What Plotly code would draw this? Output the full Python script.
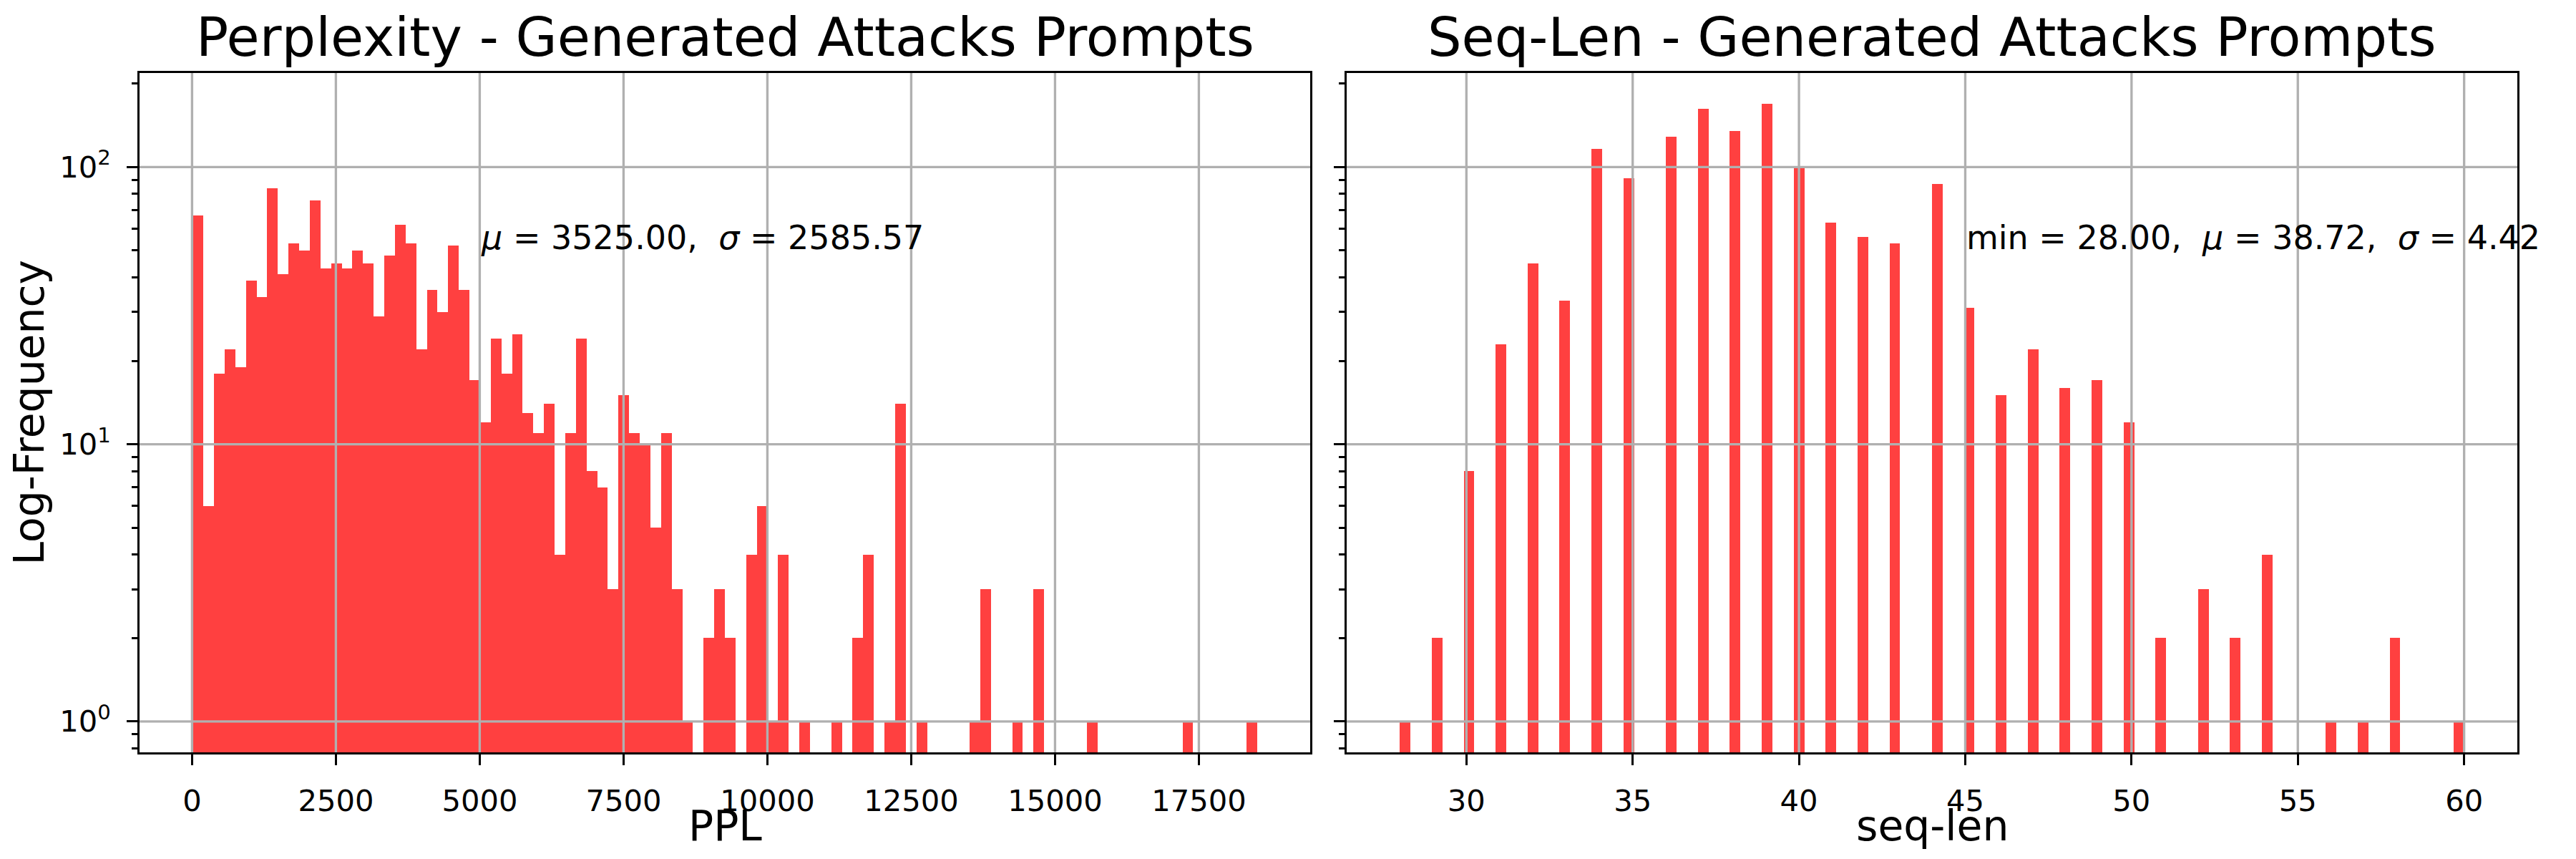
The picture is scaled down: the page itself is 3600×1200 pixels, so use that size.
import numpy as np
import plotly.graph_objects as go

# ---- data ----
# perplexity histogram: 100 equal bins between PPL_MIN and PPL_MAX
PPL_MIN = 12.0
PPL_MAX = 18510.0
ppl_counts = [
    67, 6, 18, 22, 19, 39, 34, 84, 41, 53,
    50, 76, 43, 45, 43, 50, 45, 29, 48, 62,
    53, 22, 36, 30, 52, 36, 17, 12, 24, 18,
    25, 13, 11, 14, 4, 11, 24, 8, 7, 3,
    15, 11, 10, 5, 11, 3, 1, 0, 2, 3,
    2, 0, 4, 6, 1, 4, 0, 1, 0, 0,
    1, 0, 2, 4, 0, 1, 14, 0, 1, 0,
    0, 0, 0, 1, 3, 0, 0, 1, 0, 3,
    0, 0, 0, 0, 1, 0, 0, 0, 0, 0,
    0, 0, 0, 1, 0, 0, 0, 0, 0, 1,
]
PPL_STATS = "<i>μ</i> = 3525.00,  <i>σ</i> = 2585.57"

# sequence length: value -> number of prompts
seq_values = [28, 29, 30, 31, 32, 33, 34, 35, 36, 37, 38, 39, 40, 41, 42, 43,
              44, 45, 46, 47, 48, 49, 50, 51, 52, 53, 54, 56, 57, 58, 60]
seq_counts = [1, 2, 8, 23, 45, 33, 116, 91, 129, 162, 135, 169, 100, 63, 56, 53,
              87, 31, 15, 22, 16, 17, 12, 2, 3, 2, 4, 1, 1, 2, 1]
SEQ_STATS = "min = 28.00,  <i>μ</i> = 38.72,  <i>σ</i> = 4.42"

ppl_ticks = [0, 2500, 5000, 7500, 10000, 12500, 15000, 17500]
seq_ticks = [30, 35, 40, 45, 50, 55, 60]
y_ticks = [1, 10, 100]
y_ticktext = ["10<sup>0</sup>", "10<sup>1</sup>", "10<sup>2</sup>"]
y_minor = [0.8, 0.9, 2, 3, 4, 5, 6, 7, 8, 9, 20, 30, 40, 50, 60, 70, 80, 90, 200]

# ---- style ----
BAR_COLOR = "#ff4040"
GRID = "#b0b0b0"
FONT = "DejaVu Sans"
PT = 300 / 72  # pixels per point (figure saved at 300 dpi)

# ---- histograms ----
ppl_edges = np.linspace(PPL_MIN, PPL_MAX, len(ppl_counts) + 1)
seq_data = np.repeat(seq_values, seq_counts)
seq_hist, seq_edges = np.histogram(seq_data, bins=100)


def bar_trace(counts, edges, xa, ya):
    counts = np.asarray(counts, dtype=float)
    widths = np.diff(edges)
    y = np.where(counts > 0, counts, np.nan)
    return go.Bar(
        x=edges[:-1] + widths / 2, y=y, width=widths,
        marker=dict(color=BAR_COLOR, line=dict(width=0)),
        xaxis=xa, yaxis=ya, showlegend=False,
    )


def padded(lo, hi, frac=0.05):
    span = hi - lo
    return [lo - frac * span, hi + frac * span]


y_max = max(max(ppl_counts), int(seq_hist.max()))
y_range = padded(0.0, np.log10(y_max))
x1_range = padded(ppl_edges[0], ppl_edges[-1])
x2_range = padded(seq_edges[0], seq_edges[-1])

fig = go.Figure()
fig.add_trace(bar_trace(ppl_counts, ppl_edges, "x", "y"))
fig.add_trace(bar_trace(seq_hist, seq_edges, "x2", "y2"))

dom1 = [187 / 3600, 1823 / 3600]
dom2 = [1874 / 3600, 3510 / 3600]
ydom = [1 - 1043 / 1200, 1 - 94 / 1200]

tick_font = dict(family=FONT, size=10 * PT, color="black")
axis_common = dict(
    showline=True, linecolor="black", linewidth=0.8 * PT, mirror=True,
    ticks="outside", ticklen=3.5 * PT, tickwidth=0.8 * PT, tickcolor="black",
    showgrid=False, zeroline=False, layer="above traces",
    tickfont=tick_font,
)
minor_y = dict(tickmode="array", tickvals=y_minor, ticks="outside",
               ticklen=2 * PT, tickwidth=0.6 * PT, tickcolor="black", showgrid=False)

fig.update_layout(
    width=3600, height=1200,
    margin=dict(l=0, r=0, t=0, b=0),
    paper_bgcolor="white", plot_bgcolor="white",
    bargap=0, barmode="overlay",
    font=dict(family=FONT, color="black"),
    xaxis=dict(domain=dom1, anchor="y", range=x1_range, tickmode="array",
               tickvals=ppl_ticks, ticktext=[str(v) for v in ppl_ticks],
               ticklabelstandoff=14, **axis_common),
    xaxis2=dict(domain=dom2, anchor="y2", range=x2_range, tickmode="array",
                tickvals=seq_ticks, ticktext=[str(v) for v in seq_ticks],
                ticklabelstandoff=14, **axis_common),
    yaxis=dict(domain=ydom, anchor="x", type="log", range=y_range, tickmode="array",
               tickvals=y_ticks, ticktext=y_ticktext, minor=minor_y,
               ticklabelstandoff=14, **axis_common),
    yaxis2=dict(domain=ydom, anchor="x2", type="log", range=y_range, tickmode="array",
                tickvals=y_ticks, ticktext=y_ticktext, showticklabels=False,
                minor=minor_y, **axis_common),
)

# grid lines drawn on top of the bars, like matplotlib does
def grid_shapes(xref, yref, xticks, x_rng):
    for v in xticks:
        if x_rng[0] <= v <= x_rng[1]:
            fig.add_shape(type="line", xref=xref, yref=yref + " domain",
                          x0=v, x1=v, y0=0, y1=1, layer="above",
                          line=dict(color=GRID, width=0.8 * PT))
    for v in y_ticks:
        f = (np.log10(v) - y_range[0]) / (y_range[1] - y_range[0])
        fig.add_shape(type="line", xref=xref + " domain", yref=yref + " domain",
                      x0=0, x1=1, y0=f, y1=f, layer="above",
                      line=dict(color=GRID, width=0.8 * PT))


grid_shapes("x", "y", ppl_ticks, x1_range)
grid_shapes("x2", "y2", seq_ticks, x2_range)

# titles
title_font = dict(family=FONT, size=18 * PT, color="black")
label_font = dict(family=FONT, size=14 * PT, color="black")
for dom, text in [(dom1, "Perplexity - Generated Attacks Prompts"),
                  (dom2, "Seq-Len - Generated Attacks Prompts")]:
    fig.add_annotation(text=text, xref="paper", yref="paper",
                       x=(dom[0] + dom[1]) / 2, y=1 - 44 / 1200,
                       xanchor="center", yanchor="middle",
                       showarrow=False, font=title_font)

for dom, text in [(dom1, "PPL"), (dom2, "seq-len")]:
    fig.add_annotation(text=text, xref="paper", yref="paper",
                       x=(dom[0] + dom[1]) / 2, y=1 - 1146 / 1200,
                       xanchor="center", yanchor="middle",
                       showarrow=False, font=label_font)

fig.add_annotation(text="Log-Frequency", xref="paper", yref="paper",
                   x=32 / 3600, y=(ydom[0] + ydom[1]) / 2, textangle=-90,
                   xanchor="center", yanchor="middle",
                   showarrow=False, font=label_font)

# statistics text
stat_font = dict(family=FONT, size=46, color="black")
fig.add_annotation(text=PPL_STATS, xref="x", yref="y", x=5000, y=np.log10(50),
                   xanchor="left", yanchor="bottom", yshift=-11,
                   showarrow=False, font=stat_font)
fig.add_annotation(text=SEQ_STATS, xref="x2", yref="y2", x=45, y=np.log10(50),
                   xanchor="left", yanchor="bottom", yshift=-11,
                   showarrow=False, font=stat_font)

fig.write_html("out.html")
